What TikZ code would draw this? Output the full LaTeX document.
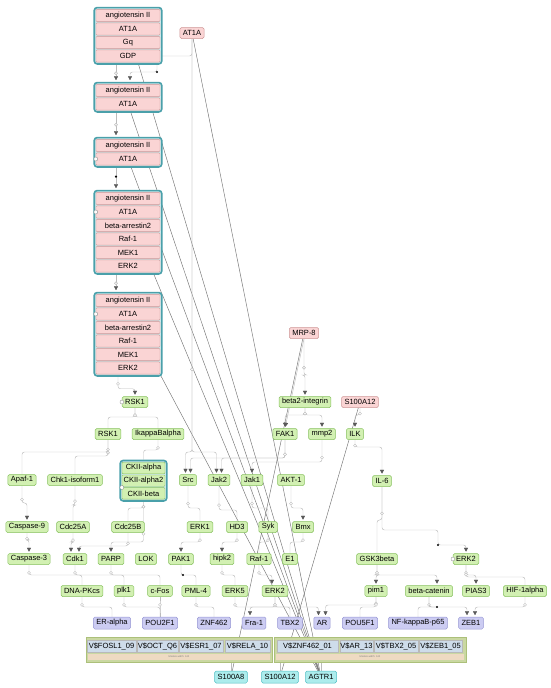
\documentclass[tikz,border=0pt]{standalone}
\usepackage{fontspec}
\setmainfont{Liberation Sans}
\usetikzlibrary{positioning, calc, arrows.meta, fit, backgrounds}
\pgfdeclarelayer{edges}
\pgfsetlayers{edges,background,main}
\definecolor{cplxteal}{RGB}{74,160,170}
\definecolor{cplxfill}{RGB}{205,232,234}
\definecolor{rowpink}{RGB}{250,212,212}
\definecolor{rowline}{RGB}{205,150,150}
\definecolor{genegreen}{RGB}{210,240,178}
\definecolor{geneline}{RGB}{135,192,95}
\definecolor{tfpurple}{RGB}{204,204,242}
\definecolor{tfline}{RGB}{150,150,212}
\definecolor{dnacyan}{RGB}{172,236,236}
\definecolor{dnaline}{RGB}{80,190,196}
\definecolor{modolive}{RGB}{202,216,162}
\definecolor{modline}{RGB}{172,192,122}
\definecolor{sitefill}{RGB}{206,220,234}
\definecolor{sitetan}{RGB}{238,218,194}
\definecolor{wire}{RGB}{188,188,188}
\newcommand{\lbl}{\fontsize{7.5}{9}\selectfont}
\tikzset{
  gene/.style={draw=geneline, fill=genegreen, rounded corners=1.5pt, font=\lbl, inner xsep=3pt, inner ysep=0pt, minimum height=11pt, line width=0.5pt},
  prot/.style={gene, draw=rowline, fill=rowpink},
  tf/.style={gene, draw=tfline, fill=tfpurple, minimum height=12pt},
  dna/.style={gene, draw=dnaline, fill=dnacyan, minimum height=12pt},
  cplxrow/.style={draw=rowline, fill=rowpink, rounded corners=1pt, font=\lbl, minimum width=64pt, minimum height=12.3pt, inner sep=0pt, line width=0.4pt},
  ckrow/.style={cplxrow, draw=geneline, fill=genegreen, minimum width=43pt, minimum height=11.5pt},
  cplxbox/.style={draw=cplxteal, fill=cplxfill, line width=1.6pt, rounded corners=3pt, inner sep=1.6pt},
  modbox/.style={draw=modline, fill=modolive, line width=0.8pt, inner sep=0pt, minimum height=25pt},
  modstrip/.style={fill=sitetan, inner sep=0pt, minimum height=6pt, font=\fontsize{2.5}{3}\selectfont, text=gray},
  tfsite/.style={draw=gray!55, fill=sitefill, font=\lbl, inner xsep=0.5pt, inner ysep=0pt, minimum height=12pt, line width=0.4pt},
  link/.style={draw=wire, line width=0.45pt, rounded corners=2.5pt},
  act/.style={link, -{Triangle[width=4pt,length=4pt,color=black!65]}, shorten >=1.5pt},
  proc/.style={circle, draw=wire, fill=white, inner sep=0pt, minimum size=3pt, line width=0.4pt},
  dot/.style={circle, fill=black, inner sep=0pt, minimum size=2.4pt},
  gmap/.style={draw=black!55, line width=0.45pt},
  uinfo/.style={circle, draw=gray, fill=white, inner sep=0pt, minimum size=4pt, line width=0.3pt}
}
\begin{document}
\begin{tikzpicture}[x=1pt, y=-1pt]
  \useasboundingbox (0,0) rectangle (550,688);

  % angiotensin II / AT1A complexes
  \node[cplxrow] (c1a) at (128,15.5) {angiotensin II};
  \node[cplxrow, below=0.8pt of c1a] (c1b) {AT1A};
  \node[cplxrow, below=0.8pt of c1b] (c1c) {Gq};
  \node[cplxrow, below=0.8pt of c1c] (c1d) {GDP};

  \node[cplxrow] (c2a) at (128,90.5) {angiotensin II};
  \node[cplxrow, below=0.8pt of c2a] (c2b) {AT1A};

  \node[cplxrow] (c3a) at (128,145.5) {angiotensin II};
  \node[cplxrow, below=0.8pt of c3a] (c3b) {AT1A};

  \node[cplxrow] (c4a) at (128,198.5) {angiotensin II};
  \node[cplxrow, below=0.8pt of c4a] (c4b) {AT1A};
  \node[cplxrow, below=0.8pt of c4b] (c4c) {beta-arrestin2};
  \node[cplxrow, below=0.8pt of c4c] (c4d) {Raf-1};
  \node[cplxrow, below=0.8pt of c4d] (c4e) {MEK1};
  \node[cplxrow, below=0.8pt of c4e] (c4f) {ERK2};

  \node[cplxrow] (c5a) at (128,300.5) {angiotensin II};
  \node[cplxrow, below=0.8pt of c5a] (c5b) {AT1A};
  \node[cplxrow, below=0.8pt of c5b] (c5c) {beta-arrestin2};
  \node[cplxrow, below=0.8pt of c5c] (c5d) {Raf-1};
  \node[cplxrow, below=0.8pt of c5d] (c5e) {MEK1};
  \node[cplxrow, below=0.8pt of c5e] (c5f) {ERK2};

  % CKII complex
  \node[ckrow] (cka) at (143.5,468) {CKII-alpha};
  \node[ckrow, below=0.8pt of cka] (ckb) {CKII-alpha2};
  \node[ckrow, below=0.8pt of ckb] (ckc) {CKII-beta};

  \begin{scope}[on background layer]
    \node[cplxbox, fit=(c1a)(c1d)] (f1) {};
    \node[cplxbox, fit=(c2a)(c2b)] (f2) {};
    \node[cplxbox, fit=(c3a)(c3b)] (f3) {};
    \node[cplxbox, fit=(c4a)(c4f)] (f4) {};
    \node[cplxbox, fit=(c5a)(c5f)] (f5) {};
    \node[cplxbox, fit=(cka)(ckc)] (fck) {};
  \end{scope}

  % pink proteins
  \node[prot] (at1a) at (192,33) {AT1A};
  \node[prot] (mrp8) at (304,333) {MRP-8};
  \node[prot] (s100a12p) at (360,402) {S100A12};

  % green proteins, row by row
  \node[gene] (rsk1a) at (135,402) {RSK1};
  \node[gene] (beta2) at (305,402) {beta2-integrin};

  \node[gene] (rsk1b) at (108,434) {RSK1};
  \node[gene] (ikba) at (158,434) {IkappaBalpha};
  \node[gene] (fak1) at (285,434) {FAK1};
  \node[gene] (mmp2) at (322,434) {mmp2};
  \node[gene] (ilk) at (355,434) {ILK};

  \node[gene] (apaf1) at (22,480) {Apaf-1};
  \node[gene] (chk1) at (75,480) {Chk1-isoform1};
  \node[gene] (src) at (188,480) {Src};
  \node[gene] (jak2) at (219,480) {Jak2};
  \node[gene] (jak1) at (252,480) {Jak1};
  \node[gene] (akt1) at (291,480) {AKT-1};
  \node[gene] (il6) at (382,481) {IL-6};

  \node[gene] (casp9) at (27,527) {Caspase-9};
  \node[gene] (cdc25a) at (73,527) {Cdc25A};
  \node[gene] (cdc25b) at (128,527) {Cdc25B};
  \node[gene] (erk1) at (200,527) {ERK1};
  \node[gene] (hd3) at (237,527) {HD3};
  \node[gene] (syk) at (268,527) {Syk};
  \node[gene] (bmx) at (303,527) {Bmx};

  \node[gene] (casp3) at (29,559) {Caspase-3};
  \node[gene] (cdk1) at (75,559) {Cdk1};
  \node[gene] (parp) at (111,559) {PARP};
  \node[gene] (lok) at (146,559) {LOK};
  \node[gene] (pak1) at (181,559) {PAK1};
  \node[gene] (hipk2) at (222,559) {hipk2};
  \node[gene] (raf1) at (259,559) {Raf-1};
  \node[gene] (e1) at (290,559) {E1};
  \node[gene] (gsk3b) at (377,559) {GSK3beta};
  \node[gene] (erk2r) at (466,559) {ERK2};

  \node[gene] (dnapk) at (82,591) {DNA-PKcs};
  \node[gene] (plk1) at (124,591) {plk1};
  \node[gene] (cfos) at (160,591) {c-Fos};
  \node[gene] (pml4) at (196,591) {PML-4};
  \node[gene] (erk5) at (235,591) {ERK5};
  \node[gene] (erk2m) at (275,591) {ERK2};
  \node[gene] (pim1) at (376,591) {pim1};
  \node[gene] (bcat) at (429,591) {beta-catenin};
  \node[gene] (pias3) at (476,591) {PIAS3};
  \node[gene] (hif1a) at (525,591) {HIF-1alpha};

  % transcription factors
  \node[tf] (eralpha) at (112,623) {ER-alpha};
  \node[tf] (pou2f1) at (160,623) {POU2F1};
  \node[tf] (znf462) at (214,623) {ZNF462};
  \node[tf] (fra1) at (254,623) {Fra-1};
  \node[tf] (tbx2) at (290,623) {TBX2};
  \node[tf] (ar) at (322,623) {AR};
  \node[tf] (pou5f1) at (360,623) {POU5F1};
  \node[tf] (nfkb) at (418,623) {NF-kappaB-p65};
  \node[tf] (zeb1) at (471,623) {ZEB1};

  % binding site modules
  \node[modbox, minimum width=186pt] (modl) at (179,649.5) {};
  \node[modbox, minimum width=192pt] (modr) at (370,649.5) {};
  \node[modstrip, minimum width=182pt] (stripl) at (179,657) {Module width: 140};
  \node[modstrip, minimum width=188pt] (stripr) at (370,657) {Module width: 140};
  \node[tfsite, minimum width=49pt] (sfosl1) at (111.5,646) {V\$FOSL1\_09};
  \node[tfsite, minimum width=41pt] (soct) at (157.5,646) {V\$OCT\_Q6};
  \node[tfsite, minimum width=44pt] (sesr1) at (201,646) {V\$ESR1\_07};
  \node[tfsite, minimum width=45pt] (srela) at (247.5,646) {V\$RELA\_10};
  \node[tfsite, minimum width=61pt] (sznf) at (307.5,646) {V\$ZNF462\_01};
  \node[tfsite, minimum width=33pt] (sar) at (356.5,646) {V\$AR\_13};
  \node[tfsite, minimum width=44pt] (stbx2) at (396,646) {V\$TBX2\_05};
  \node[tfsite, minimum width=43pt] (szeb1) at (440.5,646) {V\$ZEB1\_05};

  % genes
  \node[dna] (s100a8g) at (231,677) {S100A8};
  \node[dna] (s100a12g) at (280,677) {S100A12};
  \node[dna] (agtr1g) at (321,677) {AGTR1};

  % state glyphs
  \foreach \n in {c3b, c4b, c5b, rsk1a, erk2r}
    \node[uinfo] at (\n.west) {};
  \node[uinfo] at (ckc.north west) {};

  \begin{pgfonlayer}{edges}
    % gene to product
    \foreach \p/\g in {at1a/agtr1g, c1b/agtr1g, c2b/agtr1g, c3b/agtr1g, c4b/agtr1g, c5b/agtr1g, mrp8/s100a8g, s100a12p/s100a12g}
      \draw[gmap] (\p) -- (\g);

    % complex chain
    \draw[act] ([xshift=-12pt]f1.south) -- node[proc]{} ([xshift=-12pt]f2.north);
    \draw[act] (at1a.south) |- (157,56) -- (157,72) node[dot]{} -| ([xshift=2pt]f2.north);
    \draw[act] ([xshift=-12pt]f2.south) -- node[proc]{} ([xshift=-12pt]f3.north);
    \draw[act] ([xshift=-12pt]f3.south) -- node[pos=0.4, dot]{} ([xshift=-12pt]f4.north);
    \draw[act] ([xshift=-12pt]f4.south) -- node[proc]{} ([xshift=-12pt]f5.north);
    \draw[act] ([xshift=-10pt]f5.south) -- ++(0,12) node[proc, pos=0.6]{} -| (rsk1a.north);
    \draw[act] (mrp8.south) -- (fak1.north);

    % activations
    \foreach \a/\b/\y/\d in {mrp8/beta2/375/0, beta2/fak1/415/0, beta2/mmp2/415/0, s100a12p/ilk/415/0,
        at1a/src/452/-2.5, fak1/src/458/2.5, at1a/jak2/452/-2.5, fak1/jak2/458/2.5, mmp2/jak1/462/0, ilk/il6/447/0,
        apaf1/casp9/503/0, casp9/casp3/540/0, cdc25a/cdk1/542/-4, cdc25b/cdk1/546/4, fck/parp/542/0,
        erk1/pak1/542/0, hd3/hipk2/542/0, akt1/bmx/508/0,
        raf1/erk2m/575/-3, gsk3b/pim1/575/0, gsk3b/bcat/575/8, erk2r/pias3/575/0,
        erk2m/fra1/607/-4, erk2m/ar/607/-3.5, pim1/ar/605/3.5, bcat/zeb1/607/-4, hif1a/zeb1/607/4}
      \draw[act] (\a.south) -- (\a.south |- 0,\y) node[proc, pos=0.8]{} -| ([xshift=\d pt]\b.north);

    % plain links
    \foreach \a/\b/\y in {rsk1a/rsk1b/417, rsk1a/ikba/417, rsk1b/apaf1/452, rsk1b/chk1/456, ikba/fck/450,
        chk1/cdc25a/505, fck/cdc25b/508, src/erk1/508, jak2/hd3/510, jak1/syk/508, il6/gsk3b/520,
        syk/raf1/542, bmx/e1/542, casp3/dnapk/575, cdk1/plk1/575, parp/cfos/575, hipk2/erk5/575,
        erk2r/hif1a/577, dnapk/eralpha/607, plk1/pou2f1/607, cfos/pou2f1/607, pml4/znf462/607,
        erk5/tbx2/607, pim1/pou5f1/607}
      \draw[link] (\a.south) -- (\a.south |- 0,\y) node[proc, pos=0.8]{} -| (\b.north);

    \draw[link] (pak1.south) |- (183,575) node[dot]{} -| (pml4.north);
    \draw[link] (bcat.south) |- (437,607) node[dot]{} -| (nfkb.north);
    \draw[act] (il6.south) |- (438,530) -- (438,545) node[dot]{} -| (erk2r.north);

    % modules to genes
    \draw[link] (modl.south -| s100a8g.north) -- (s100a8g.north);
    \draw[link] (modr.south -| s100a12g.north) -- (s100a12g.north);
    \draw[link] (modr.south -| agtr1g.north) -- (agtr1g.north);
  \end{pgfonlayer}
\end{tikzpicture}
\end{document}
